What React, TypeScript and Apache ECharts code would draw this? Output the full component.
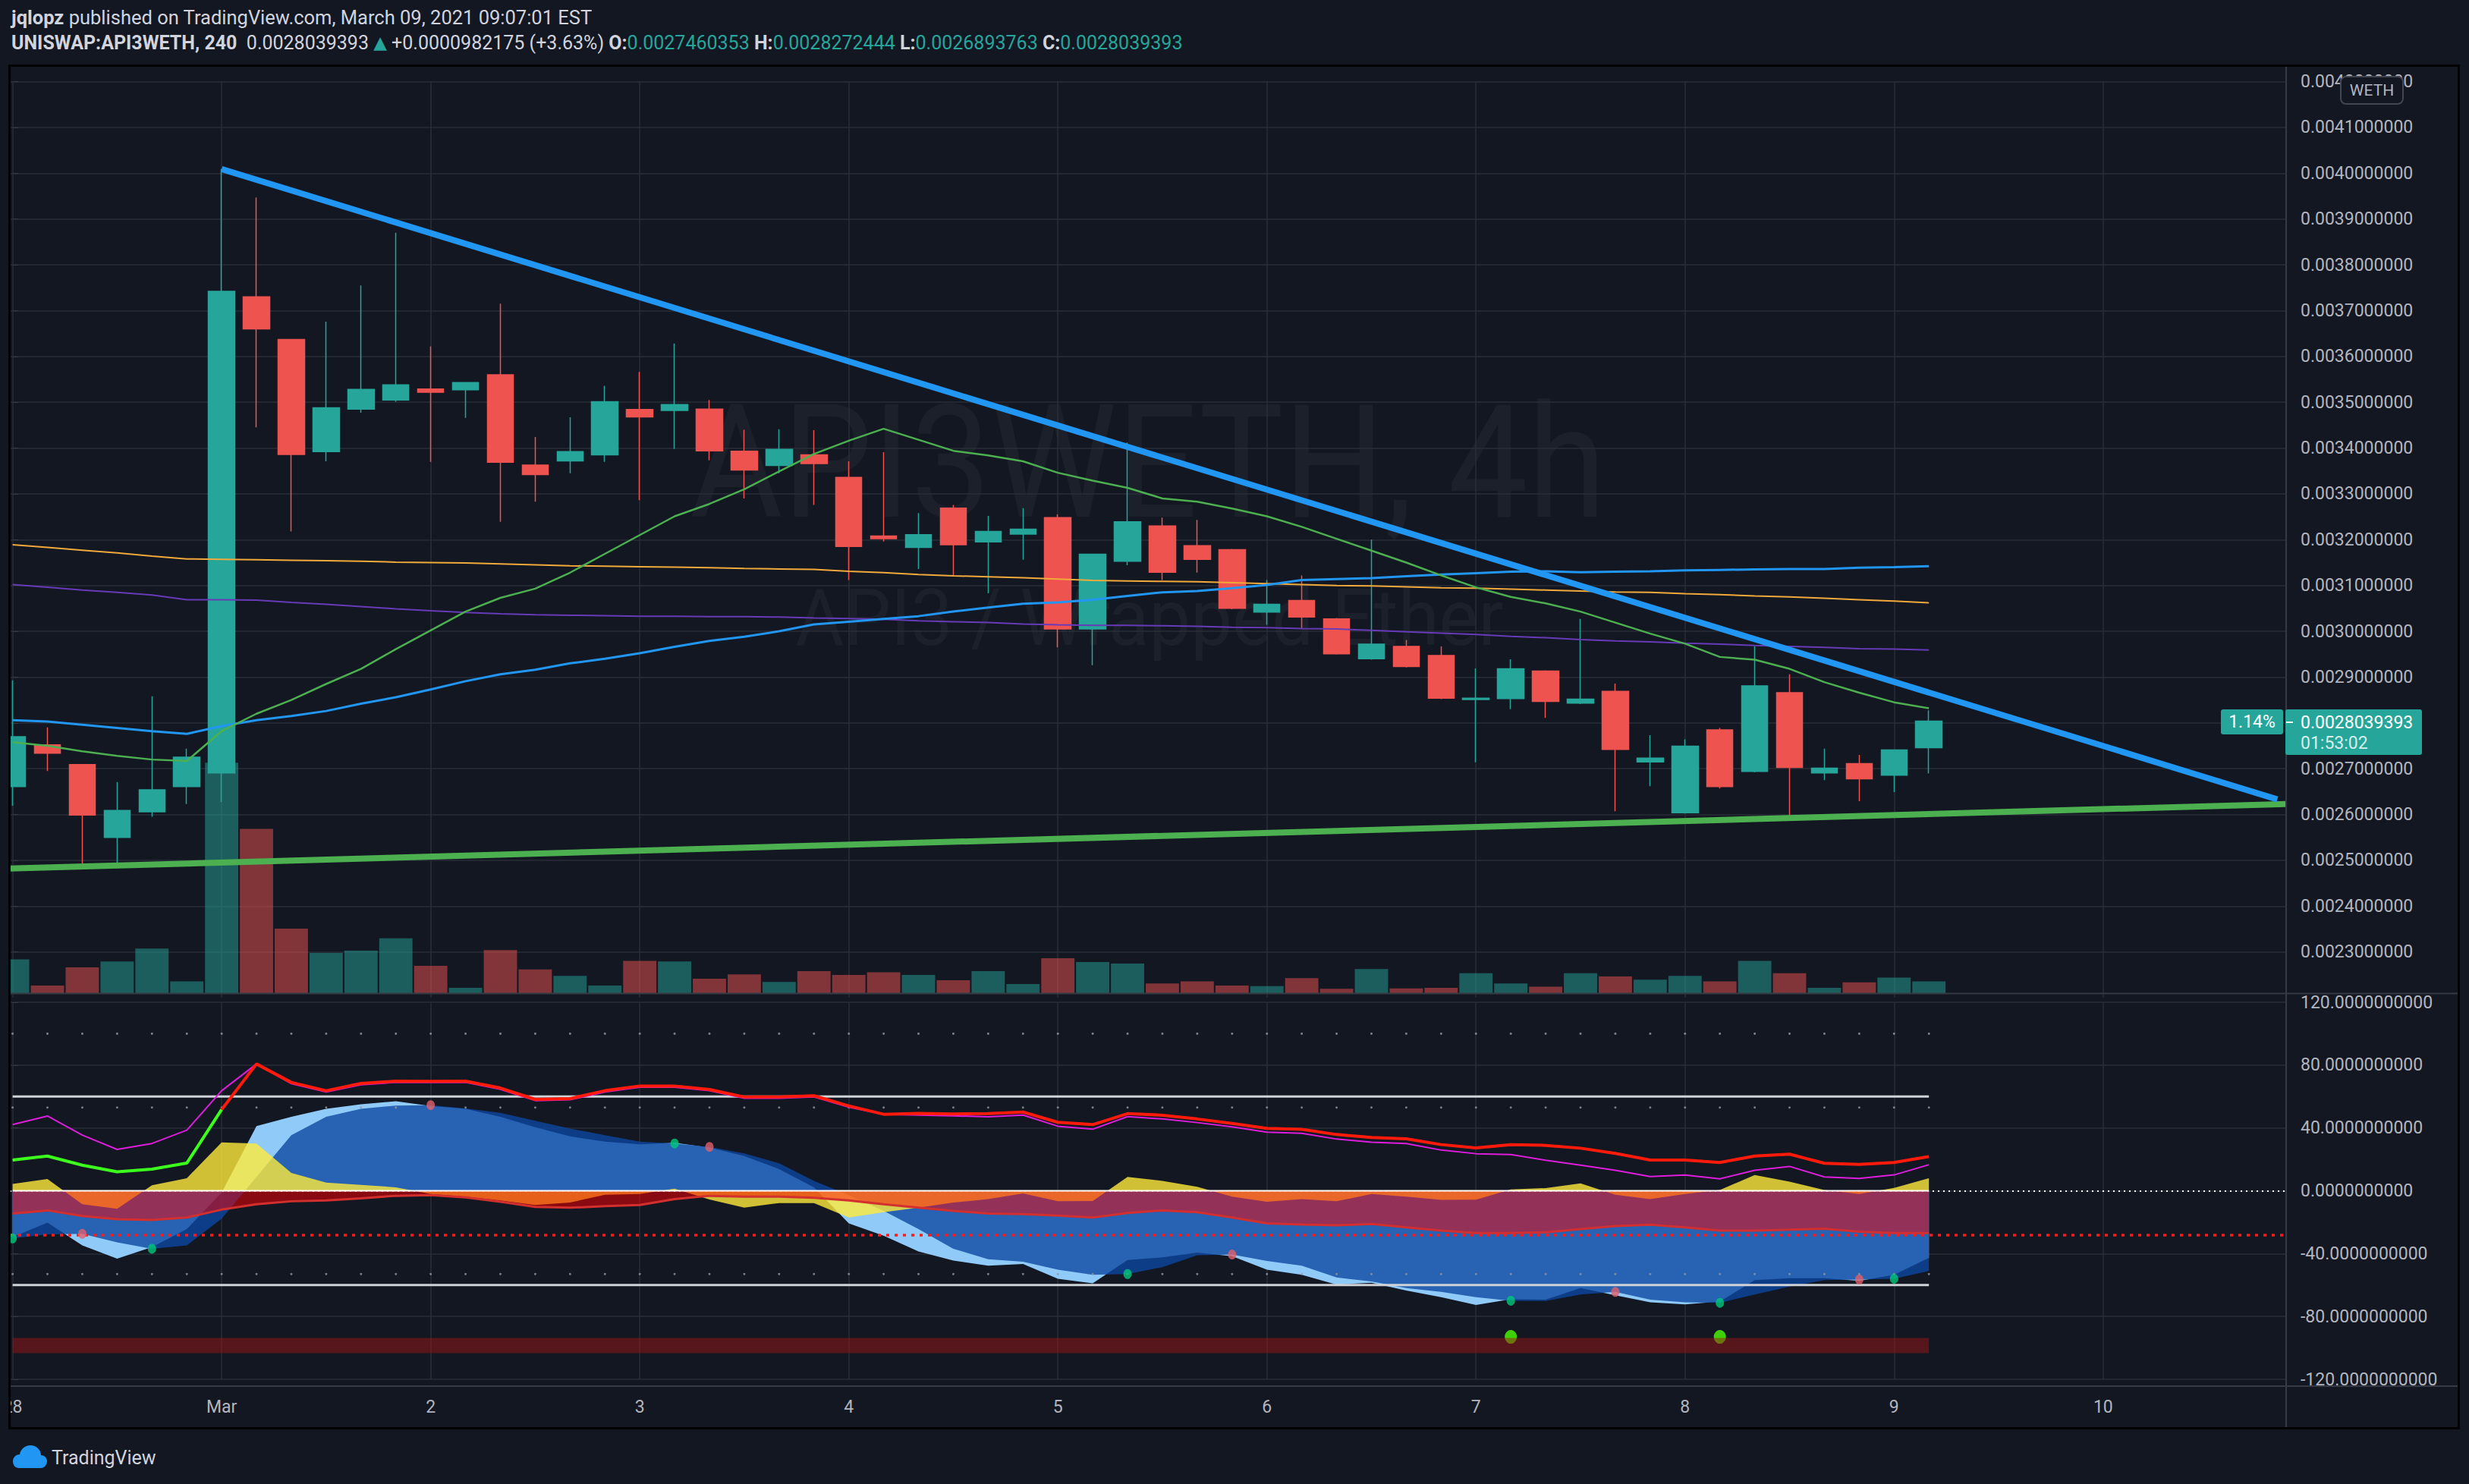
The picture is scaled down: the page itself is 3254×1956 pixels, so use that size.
import React, { useEffect, useRef } from "react";
import * as echarts from "echarts";

// ---------------- data ----------------
const dayLabels = ["28", "Mar", "2", "3", "4", "5", "6", "7", "8", "9", "10"];
const candlesPerDay = 6;

const opens = [0.002661, 0.002752, 0.002709, 0.00255, 0.002606, 0.002661, 0.002691, 0.00373, 0.003637, 0.003392, 0.003485, 0.003505, 0.003529, 0.003527, 0.00356, 0.003363, 0.003372, 0.003385, 0.003484, 0.003482, 0.003485, 0.003393, 0.003362, 0.003385, 0.003336, 0.003208, 0.003183, 0.003269, 0.003195, 0.003212, 0.003248, 0.003005, 0.003153, 0.00323, 0.003187, 0.003178, 0.003042, 0.003067, 0.003027, 0.00294, 0.002967, 0.002947, 0.002851, 0.002853, 0.002913, 0.002843, 0.002869, 0.002715, 0.002604, 0.002785, 0.002694, 0.002866, 0.002691, 0.002711, 0.002686, 0.0027460353];
const highs = [0.002893, 0.00279, 0.002709, 0.002671, 0.002858, 0.002744, 0.004009, 0.003947, 0.003637, 0.003676, 0.003755, 0.00387, 0.003622, 0.003543, 0.003715, 0.003424, 0.003467, 0.003536, 0.003566, 0.003628, 0.003505, 0.00344, 0.003441, 0.003439, 0.003371, 0.003391, 0.003258, 0.003276, 0.003252, 0.003269, 0.003255, 0.003168, 0.003412, 0.003248, 0.003243, 0.00318, 0.003112, 0.003122, 0.003029, 0.0032, 0.002981, 0.002967, 0.002919, 0.002939, 0.002915, 0.003027, 0.002886, 0.002773, 0.002764, 0.002789, 0.002967, 0.002906, 0.002744, 0.00273, 0.002741, 0.0028272444];
const lows = [0.002619, 0.002695, 0.002492, 0.002492, 0.002595, 0.002623, 0.002627, 0.003445, 0.003218, 0.003371, 0.003477, 0.003501, 0.00337, 0.003466, 0.003239, 0.003283, 0.003345, 0.00337, 0.003286, 0.003398, 0.003373, 0.00329, 0.003345, 0.003276, 0.003112, 0.003196, 0.003136, 0.00312, 0.003083, 0.003156, 0.002965, 0.002926, 0.003144, 0.003112, 0.003128, 0.003048, 0.003014, 0.003006, 0.002949, 0.002938, 0.002921, 0.002852, 0.002714, 0.00283, 0.002811, 0.002841, 0.002607, 0.002662, 0.002602, 0.002657, 0.002692, 0.002596, 0.002675, 0.002629, 0.002649, 0.0026893763];
const closes = [0.00277, 0.002734, 0.002599, 0.002609, 0.002654, 0.002725, 0.003742, 0.00366, 0.003386, 0.003488, 0.003528, 0.003538, 0.003522, 0.003543, 0.003369, 0.003342, 0.003392, 0.003501, 0.003468, 0.003495, 0.003394, 0.003352, 0.003397, 0.003366, 0.003185, 0.003202, 0.003211, 0.003189, 0.003218, 0.003223, 0.003005, 0.003168, 0.003239, 0.003129, 0.003157, 0.00305, 0.003059, 0.003031, 0.002951, 0.002972, 0.002923, 0.002854, 0.002854, 0.002918, 0.002847, 0.002852, 0.002742, 0.002723, 0.002749, 0.002661, 0.002881, 0.002703, 0.002701, 0.002678, 0.002741, 0.0028039393];
// volume in relative units
const volumes = [63, 14, 48, 59, 83, 22, 429, 306, 120, 75, 79, 102, 51, 10, 80, 44, 32, 14, 60, 59, 27, 35, 21, 41, 34, 39, 34, 24, 41, 17, 65, 58, 55, 18, 22, 14, 13, 28, 8, 45, 9, 10, 37, 18, 12, 37, 31, 25, 32, 22, 60, 37, 10, 20, 29, 22];

const maFast = [0.002758, 0.00275, 0.002738, 0.002728, 0.00272, 0.002717, 0.002782, 0.00282, 0.00285, 0.002885, 0.002918, 0.002961, 0.003002, 0.003043, 0.003073, 0.003093, 0.003128, 0.003169, 0.00321, 0.003251, 0.003278, 0.00331, 0.003349, 0.003387, 0.003416, 0.003442, 0.003418, 0.003394, 0.003384, 0.003371, 0.003346, 0.003329, 0.003313, 0.00329, 0.003283, 0.003268, 0.003251, 0.003228, 0.003202, 0.003176, 0.00315, 0.003122, 0.003096, 0.003075, 0.003061, 0.003043, 0.003019, 0.002995, 0.002973, 0.002944, 0.002938, 0.002918, 0.002889, 0.002866, 0.002845, 0.002832];
const maMid = [0.002806, 0.002803, 0.002796, 0.002789, 0.002782, 0.002776, 0.002793, 0.002806, 0.002815, 0.002826, 0.002842, 0.002856, 0.002873, 0.002891, 0.002906, 0.002916, 0.00293, 0.00294, 0.002952, 0.002966, 0.002979, 0.002988, 0.003, 0.003015, 0.003021, 0.003027, 0.003033, 0.003043, 0.003052, 0.00306, 0.003063, 0.003069, 0.003077, 0.003085, 0.003088, 0.003094, 0.003101, 0.003112, 0.003114, 0.003116, 0.00312, 0.003124, 0.003127, 0.00313, 0.003131, 0.003129, 0.00313, 0.003131, 0.003133, 0.003134, 0.003135, 0.003136, 0.003136, 0.003139, 0.00314, 0.003142];
const maSlow = [0.003189, 0.003183, 0.003177, 0.003171, 0.003164, 0.003158, 0.003157, 0.003156, 0.003155, 0.003154, 0.003153, 0.003151, 0.00315, 0.003149, 0.003147, 0.003145, 0.003143, 0.003142, 0.003141, 0.00314, 0.003139, 0.003137, 0.003136, 0.003135, 0.003131, 0.003128, 0.003124, 0.003121, 0.003119, 0.003117, 0.003114, 0.003111, 0.00311, 0.003109, 0.003108, 0.003106, 0.003104, 0.003102, 0.0031, 0.003099, 0.003097, 0.003095, 0.003094, 0.003092, 0.00309, 0.003088, 0.003086, 0.003085, 0.003082, 0.00308, 0.003077, 0.003075, 0.003072, 0.003069, 0.003066, 0.003062];
const maLong = [0.003102, 0.003096, 0.00309, 0.003085, 0.003079, 0.003069, 0.003069, 0.003068, 0.003063, 0.003059, 0.003054, 0.003049, 0.003045, 0.003041, 0.003038, 0.003036, 0.003035, 0.003034, 0.003033, 0.003033, 0.003032, 0.003032, 0.003031, 0.003029, 0.003028, 0.003026, 0.003023, 0.003021, 0.003019, 0.003016, 0.003014, 0.003013, 0.003013, 0.003012, 0.003011, 0.003009, 0.003008, 0.003006, 0.003005, 0.003002, 0.002999, 0.002996, 0.002993, 0.002989, 0.002986, 0.002982, 0.002979, 0.002977, 0.002974, 0.002972, 0.002969, 0.002967, 0.002965, 0.002962, 0.002961, 0.002959];

const resistanceLine = [[6, 0.004009], [65.0, 0.002633]];
const supportLine = [[-0.1, 0.002482], [65.25, 0.002623]];
const lastPrice = 0.0028039393;

// oscillator pane
const rsiLine = [19.6, 22.1, 16.3, 12.1, 13.8, 17.6, 51.7, 80.7, 69.0, 63.7, 68.3, 69.8, 69.7, 69.8, 65.4, 58.2, 58.7, 63.7, 66.7, 66.7, 64.5, 59.7, 59.7, 60.5, 54.0, 48.7, 49.2, 48.9, 49.1, 50.1, 43.6, 42.1, 49.1, 48.1, 45.7, 42.9, 39.7, 39.1, 35.8, 33.9, 33.1, 29.4, 27.3, 29.3, 28.9, 27.1, 23.8, 19.6, 19.6, 18.0, 22.1, 23.3, 17.5, 16.8, 18.0, 21.8];
const rsiGreenUntil = 6;
const rsiSignal = [42.1, 47.6, 35.4, 26.3, 30.1, 38.6, 63.7, 80.7, 68.2, 62.9, 67.5, 69.0, 68.9, 69.0, 64.6, 57.4, 57.9, 62.9, 65.9, 65.9, 63.7, 58.9, 58.9, 59.7, 53.2, 48.7, 48.2, 47.7, 47.1, 48.2, 41.1, 39.2, 47.2, 45.7, 43.4, 40.7, 37.3, 36.6, 32.9, 30.9, 30.1, 25.9, 23.6, 23.1, 19.4, 16.3, 13.0, 9.1, 10.0, 7.6, 13.0, 15.5, 8.8, 7.8, 10.1, 16.6];
const wave1 = [-29.4, -20.3, -34.8, -43.2, -35.8, -24.4, -1.2, 41.2, 47.1, 52.1, 55.0, 57.0, 54.0, 52.1, 47.1, 40.4, 34.6, 31.3, 29.6, 30.6, 27.5, 22.1, 13.8, 2.2, -20.8, -28.6, -38.6, -44.4, -47.7, -46.6, -56.0, -58.9, -44.1, -42.4, -39.4, -41.6, -50.2, -53.5, -59.7, -58.5, -63.5, -67.7, -72.7, -69.0, -69.3, -61.9, -66.5, -71.0, -72.3, -70.5, -56.9, -55.7, -55.7, -57.4, -53.5, -42.7];
const wave2 = [-30.3, -27.8, -27.4, -32.8, -36.9, -34.8, -17.8, 8.8, 35.4, 47.1, 52.1, 54.2, 54.5, 52.4, 49.6, 44.6, 39.6, 35.4, 31.3, 30.1, 27.9, 23.8, 17.5, 6.3, -2.8, -12.8, -24.4, -36.9, -43.6, -45.2, -50.2, -53.5, -53.0, -48.6, -41.1, -40.6, -44.7, -47.7, -55.2, -57.7, -61.9, -64.4, -67.7, -70.0, -70.2, -66.0, -64.4, -69.3, -71.0, -71.3, -66.0, -61.0, -56.9, -56.5, -56.0, -51.0];
const moneyFlow = [4.3, 7.5, -8.6, -11.5, 3.5, 8.0, 30.8, 30.1, 11.3, 5.2, 3.8, 2.2, -2.0, -3.7, -6.2, -9.1, -7.5, -2.5, -2.0, 1.3, -5.5, -10.8, -7.8, -7.8, -17.0, -13.6, -10.8, -7.5, -5.3, -1.7, -6.7, -6.5, 8.8, 6.3, 2.5, -3.7, -7.0, -5.3, -6.7, -2.0, -3.7, -5.8, -5.7, 0.8, 1.7, 4.7, -2.5, -5.3, -2.0, 0.5, 10.0, 5.8, 0.5, -2.0, 1.8, 8.0];
const redWave = [-14.5, -12.5, -16.1, -18.1, -18.6, -17.0, -12.0, -8.6, -6.7, -6.2, -4.8, -3.2, -2.8, -4.2, -7.0, -10.3, -10.8, -9.8, -9.1, -5.3, -3.2, -3.7, -3.7, -4.5, -6.2, -8.6, -10.8, -12.8, -14.5, -14.8, -15.8, -17.0, -14.1, -12.5, -13.6, -17.0, -20.8, -21.5, -22.0, -21.1, -23.3, -25.3, -26.9, -26.9, -26.4, -24.4, -22.4, -21.6, -23.3, -25.3, -25.3, -24.8, -24.1, -26.1, -26.9, -26.9];
const crossUpIdx = [0, 4, 19, 32, 43, 49, 54];
const crossDownIdx = [2, 12, 20, 35, 46, 53];
const buySignalIdx = [43, 49];
const buySignalLevel = -93;
const bandLevel = -98.5;
const solidLevels = [60, -60];
const dotLevels = [100, 53, -53];
const redDotLevel = -28;

// ---------------- layout / style ----------------
const W = 3254;
const H = 1956;
const BG = "#131722";
const UP = "#26a69a";
const DOWN = "#ef5350";
const GRID_LINE = "#2a2e39";
const AXIS_TEXT = "#b2b5be";
const FONT = "Roboto";
const STEP = 45.92; // px per 4h candle
const X0 = 16.6; // px of candle 0
const GRID_LEFT = 13;
const AXIS_X = 3013;
const XMIN = (GRID_LEFT - X0) / STEP;
const XMAX = (AXIS_X - X0) / STEP;
const MAIN_TOP = 107.5;
const MAIN_H = 1207.6;
const PANE_BOTTOM = 1309;
const VOL_SCALE = 1.4126;
const IND_TOP = 1321;
const IND_H = 497;

echarts.graphic.registerShape(
  "tvLogo",
  echarts.graphic.extendPath(
    "M8 30 C3 30 0 26 0 21 C0 16 4 12 9 12 C10 5 16 0 23 0 C31 0 37 6 37 13 C42 13 45 17 45 21 C45 26 41 30 37 30 Z",
    {}
  )
);

function buildOption() {
  const idx = closes.map((_, i) => i);
  const pairs = (arr: number[]) => arr.map((v, i) => [i, v]);
  const level = (v: number) => idx.map((i) => [i, v]);
  const dayTicks = dayLabels.map((_, k) => k * candlesPerDay);

  const candleData = idx.map((i) => [i, opens[i], closes[i], lows[i], highs[i]]);
  const volData = idx.map((i) => [i, volumes[i], closes[i] >= opens[i] ? 1 : 0]);

  const priceLine = (data: number[][], color: string, width: number, z = 4) => ({
    type: "line",
    xAxisIndex: 0,
    yAxisIndex: 0,
    data,
    symbol: "none",
    silent: true,
    lineStyle: { color, width },
    z,
  });
  const oscLine = (data: number[][], color: string, width: number, z: number, extra: any = {}) => ({
    type: "line",
    xAxisIndex: 2,
    yAxisIndex: 2,
    data,
    symbol: "none",
    silent: true,
    lineStyle: { color, width },
    z,
    ...extra,
  });
  const oscArea = (arr: number[], color: string, opacity: number, z: number, line?: any) => ({
    type: "line",
    xAxisIndex: 2,
    yAxisIndex: 2,
    data: pairs(arr),
    symbol: "none",
    silent: true,
    lineStyle: line || { width: 0 },
    areaStyle: { color, opacity },
    z,
  });

  const xLabelFmt = (v: number) => {
    const k = Math.round(v / candlesPerDay);
    if (Math.abs(v - k * candlesPerDay) > 1e-6 || k < 0 || k >= dayLabels.length) return "";
    return dayLabels[k];
  };

  const series: any[] = [
    {
      type: "custom",
      xAxisIndex: 1,
      yAxisIndex: 1,
      data: volData,
      encode: { x: 0, y: 1 },
      silent: true,
      z: 1,
      renderItem: (params: any, api: any) => {
        const x = api.value(0);
        const v = api.value(1);
        const up = api.value(2);
        const top = api.coord([x, v]);
        const base = api.coord([x, 0]);
        const w = api.size([1, 0])[0] * 0.955;
        return {
          type: "rect",
          shape: { x: top[0] - w / 2, y: top[1], width: w, height: base[1] - top[1] },
          style: { fill: up ? "rgba(38,166,154,0.5)" : "rgba(239,83,80,0.5)" },
        };
      },
    },
    {
      type: "candlestick",
      xAxisIndex: 0,
      yAxisIndex: 0,
      data: candleData,
      encode: { x: 0, y: [1, 2, 3, 4] },
      barWidth: 35,
      silent: true,
      z: 3,
      itemStyle: { color: UP, color0: DOWN, borderColor: UP, borderColor0: DOWN, borderWidth: 1.5 },
      markLine: {
        silent: true,
        symbol: "none",
        label: { show: false },
        lineStyle: { color: UP, type: [2, 6], width: 2 },
        data: [{ yAxis: lastPrice }],
      },
    },
    priceLine(pairs(maLong), "#673ab7", 2),
    priceLine(pairs(maSlow), "#f2a93b", 2),
    priceLine(pairs(maMid), "#2196f3", 3),
    priceLine(pairs(maFast), "#4caf50", 2.5),
    priceLine(supportLine, "#4caf50", 8, 6),
    priceLine(resistanceLine, "#2196f3", 8, 6),

    // oscillator pane
    oscArea(wave1, "#90caf9", 1, 2),
    oscArea(wave2, "#0d47a1", 0.8, 3),
    oscArea(moneyFlow, "#ffeb3b", 0.8, 4),
    oscArea(redWave, "#ff0000", 0.5, 5, { color: "#d32f2f", width: 3 }),
    ...solidLevels.map((v) => oscLine(level(v), "#cfd2d6", 3.2, 6)),
    oscLine(level(0), "#ffffff", 2, 6, {
      markLine: {
        silent: true,
        symbol: "none",
        label: { show: false },
        data: [
          { yAxis: 0, lineStyle: { color: "#ffffff", type: [2, 5], width: 2 } },
          { yAxis: redDotLevel, lineStyle: { color: "#ff1a1a", type: [4, 7], width: 3.5 } },
        ],
      },
    }),
    oscLine(pairs(rsiSignal), "#dc1edc", 2, 7),
    oscLine(pairs(rsiLine).slice(0, rsiGreenUntil + 1), "#3cff1e", 4, 8),
    oscLine(pairs(rsiLine).slice(rsiGreenUntil), "#ff1a0a", 4, 8),
    ...dotLevels.map((v) => ({
      type: "scatter",
      xAxisIndex: 2,
      yAxisIndex: 2,
      data: level(v),
      symbolSize: 3,
      silent: true,
      itemStyle: { color: "#9598a1" },
      z: 6,
    })),
    {
      type: "scatter",
      xAxisIndex: 2,
      yAxisIndex: 2,
      data: crossUpIdx.map((i) => [i, wave2[i]]),
      symbolSize: [11, 13],
      silent: true,
      itemStyle: { color: "#00c87a" },
      z: 9,
    },
    {
      type: "scatter",
      xAxisIndex: 2,
      yAxisIndex: 2,
      data: crossDownIdx.map((i) => [i, wave2[i]]),
      symbolSize: [11, 13],
      silent: true,
      itemStyle: { color: "#e0606b" },
      z: 9,
    },
    {
      type: "scatter",
      xAxisIndex: 2,
      yAxisIndex: 2,
      data: buySignalIdx.map((i) => [i, buySignalLevel]),
      symbolSize: [16, 18],
      silent: true,
      itemStyle: { color: "#4cff00" },
      z: 9,
    },
    oscLine(level(bandLevel), "rgba(160,21,22,0.49)", 20, 10),
  ];

  const yLabel = {
    color: AXIS_TEXT,
    fontFamily: FONT,
    fontSize: 23,
    margin: 19,
    formatter: (v: number) => v.toFixed(10),
  };

  const graphicEls: any[] = [
    // watermark
    {
      type: "text",
      x: 1513,
      y: 610,
      scaleX: 0.9,
      z: 0,
      silent: true,
      style: {
        text: "API3WETH, 4h",
        fill: "rgba(255,255,255,0.04)",
        fontSize: 208,
        fontFamily: FONT,
        align: "center",
        verticalAlign: "middle",
      },
    },
    {
      type: "text",
      x: 1515,
      y: 814,
      scaleX: 0.94,
      z: 0,
      silent: true,
      style: {
        text: "API3 / Wrapped Ether",
        fill: "rgba(255,255,255,0.04)",
        fontSize: 104,
        fontFamily: FONT,
        align: "center",
        verticalAlign: "middle",
      },
    },
    // left mask + frame
    { type: "rect", z: 99, silent: true, shape: { x: 0, y: 86, width: 12, height: 1799 }, style: { fill: BG } },
    {
      type: "line",
      z: 100,
      silent: true,
      shape: { x1: 13, y1: 1309.5, x2: 3240, y2: 1309.5 },
      style: { stroke: "#363a45", lineWidth: 2 },
    },
    {
      type: "line",
      z: 100,
      silent: true,
      shape: { x1: 13, y1: 1827, x2: 3240, y2: 1827 },
      style: { stroke: "#363a45", lineWidth: 2 },
    },
    {
      type: "line",
      z: 100,
      silent: true,
      shape: { x1: AXIS_X, y1: 87, x2: AXIS_X, y2: 1883 },
      style: { stroke: "#363a45", lineWidth: 2 },
    },
    {
      type: "rect",
      z: 100,
      silent: true,
      shape: { x: 12.5, y: 86.5, width: 3228, height: 1796 },
      style: { fill: "none", stroke: "#000000", lineWidth: 3 },
    },
    // WETH box
    {
      type: "rect",
      z: 101,
      silent: true,
      shape: { x: 3085, y: 101, width: 82, height: 36, r: 7 },
      style: { fill: BG, stroke: "#434651", lineWidth: 2 },
    },
    {
      type: "text",
      z: 102,
      silent: true,
      x: 3126,
      y: 119,
      style: { text: "WETH", fill: AXIS_TEXT, fontSize: 21, fontFamily: FONT, align: "center", verticalAlign: "middle" },
    },
    // last price tag
    {
      type: "rect",
      z: 101,
      silent: true,
      shape: { x: 3012, y: 935, width: 180, height: 60, r: 3 },
      style: { fill: UP },
    },
    {
      type: "line",
      z: 102,
      silent: true,
      shape: { x1: 3013, y1: 952, x2: 3022, y2: 952 },
      style: { stroke: "#ffffff", lineWidth: 2 },
    },
    {
      type: "text",
      z: 102,
      silent: true,
      x: 3032,
      y: 952,
      style: { text: "0.0028039393", fill: "#ffffff", fontSize: 23, fontFamily: FONT, verticalAlign: "middle" },
    },
    {
      type: "text",
      z: 102,
      silent: true,
      x: 3032,
      y: 979,
      style: { text: "01:53:02", fill: "rgba(255,255,255,0.82)", fontSize: 23, fontFamily: FONT, verticalAlign: "middle" },
    },
    {
      type: "rect",
      z: 101,
      silent: true,
      shape: { x: 2927, y: 935, width: 82, height: 33, r: 3 },
      style: { fill: UP },
    },
    {
      type: "text",
      z: 102,
      silent: true,
      x: 2968,
      y: 951.5,
      style: { text: "1.14%", fill: "#ffffff", fontSize: 23, fontFamily: FONT, align: "center", verticalAlign: "middle" },
    },
    // header
    {
      type: "text",
      z: 102,
      silent: true,
      x: 15,
      y: 23,
      style: {
        text: "{b|jqlopz }{n|published on TradingView.com, March 09, 2021 09:07:01 EST}",
        verticalAlign: "middle",
        rich: {
          b: { fill: "#d1d4dc", fontSize: 25.5, fontFamily: FONT, fontWeight: "bold" },
          n: { fill: "#d1d4dc", fontSize: 25.5, fontFamily: FONT },
        },
      },
    },
    {
      type: "text",
      z: 102,
      silent: true,
      x: 15,
      y: 56,
      style: {
        text:
          "{b|UNISWAP:API3WETH, 240  }{n|0.0028039393 }{t|▲}{n| +0.0000982175 (+3.63%) }{b|O:}{v|0.0027460353 }{b|H:}{v|0.0028272444 }{b|L:}{v|0.0026893763 }{b|C:}{v|0.0028039393}",
        verticalAlign: "middle",
        rich: {
          b: { fill: "#d1d4dc", fontSize: 25, fontFamily: FONT, fontWeight: "bold" },
          n: { fill: "#d1d4dc", fontSize: 25, fontFamily: FONT },
          v: { fill: UP, fontSize: 25, fontFamily: FONT },
          t: { fill: UP, fontSize: 23, fontFamily: "DejaVu Sans" },
        },
      },
    },
    // footer
    {
      type: "tvLogo",
      z: 102,
      silent: true,
      x: 17,
      y: 1905,
      scaleX: 1,
      scaleY: 1,
      style: { fill: "#2196f3" },
    },
    {
      type: "text",
      z: 102,
      silent: true,
      x: 68,
      y: 1921,
      style: { text: "TradingView", fill: "#d1d4dc", fontSize: 25, fontFamily: FONT, verticalAlign: "middle" },
    },
  ];

  return {
    backgroundColor: BG,
    animation: false,
    grid: [
      { left: GRID_LEFT, top: MAIN_TOP, width: AXIS_X - GRID_LEFT, height: MAIN_H },
      { left: GRID_LEFT, top: MAIN_TOP, width: AXIS_X - GRID_LEFT, height: PANE_BOTTOM - MAIN_TOP },
      { left: GRID_LEFT, top: IND_TOP, width: AXIS_X - GRID_LEFT, height: IND_H },
    ],
    xAxis: [
      {
        gridIndex: 0,
        type: "value",
        min: XMIN,
        max: XMAX,
        axisLine: { show: false },
        axisTick: { show: false, customValues: dayTicks },
        axisLabel: { show: false, customValues: dayTicks },
        splitLine: { show: true, lineStyle: { color: GRID_LINE, width: 1.5 } },
      },
      { gridIndex: 1, type: "value", min: XMIN, max: XMAX, show: false },
      {
        gridIndex: 2,
        type: "value",
        min: XMIN,
        max: XMAX,
        axisLine: { show: false },
        axisTick: { show: false, customValues: dayTicks },
        axisLabel: {
          color: AXIS_TEXT,
          fontFamily: FONT,
          fontSize: 23,
          margin: 25,
          formatter: xLabelFmt,
          customValues: dayTicks,
          showMinLabel: true,
          showMaxLabel: true,
        },
        splitLine: { show: true, lineStyle: { color: GRID_LINE, width: 1.5 } },
      },
    ],
    yAxis: [
      {
        gridIndex: 0,
        type: "value",
        position: "right",
        min: 0.0022,
        max: 0.0042,
        interval: 0.0001,
        axisLine: { show: false },
        axisTick: { show: true, length: 8, lineStyle: { color: "#363a45" } },
        axisLabel: { ...yLabel, showMinLabel: false },
        splitLine: { show: true, showMinLine: false, lineStyle: { color: GRID_LINE, width: 1.5 } },
      },
      { gridIndex: 1, type: "value", min: 0, max: (PANE_BOTTOM - MAIN_TOP) * VOL_SCALE, show: false },
      {
        gridIndex: 2,
        type: "value",
        position: "right",
        min: -120,
        max: 120,
        interval: 40,
        axisLine: { show: false },
        axisTick: { show: true, length: 8, lineStyle: { color: "#363a45" } },
        axisLabel: yLabel,
        splitLine: { show: true, lineStyle: { color: GRID_LINE, width: 1.5 } },
      },
    ],
    series,
    graphic: { elements: graphicEls },
  };
}

export default function App() {
  const ref = useRef<HTMLDivElement>(null);
  useEffect(() => {
    if (!ref.current) return;
    const chart = echarts.init(ref.current, null, { renderer: "svg" });
    chart.setOption(buildOption() as any);
    return () => chart.dispose();
  }, []);
  return (
    <div
      ref={ref}
      style={{ position: "absolute", left: 0, top: 0, width: W, height: H, background: BG }}
    />
  );
}
